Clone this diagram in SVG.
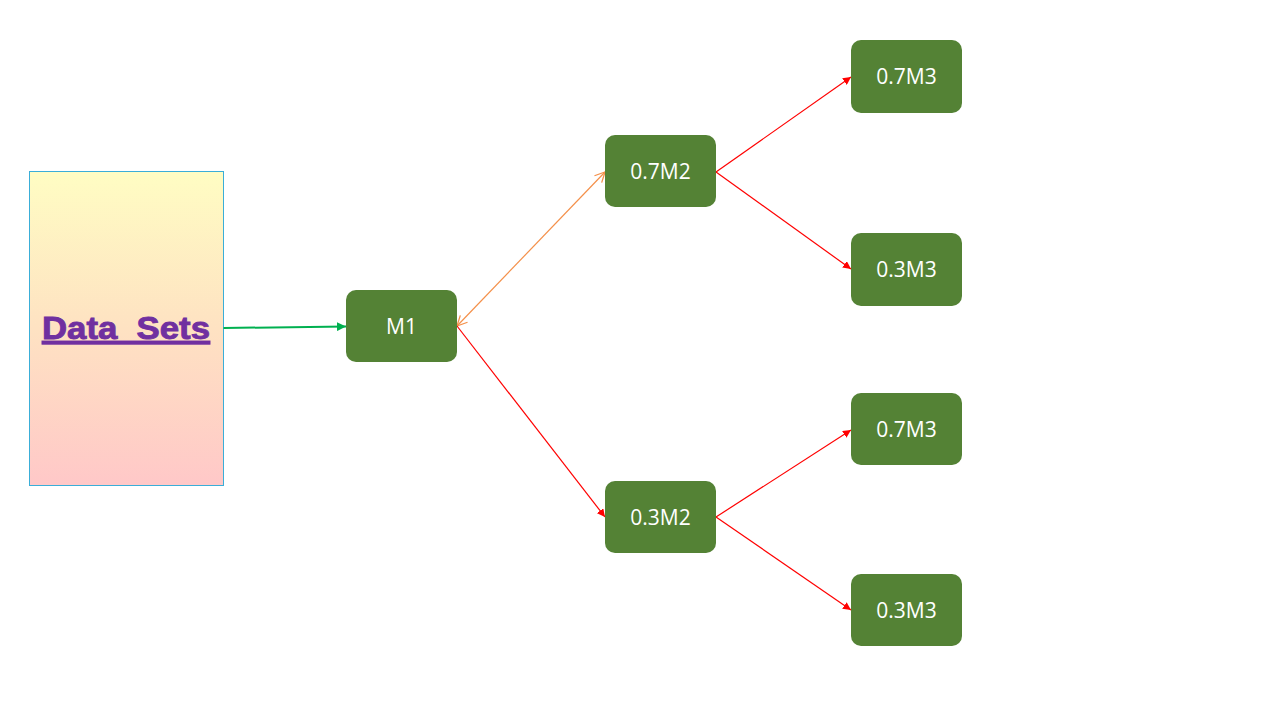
<svg xmlns="http://www.w3.org/2000/svg" width="1280" height="720" viewBox="0 0 1280 720">
<style>
.node rect{fill:#548235}
.node text{fill:#ffffff;font-family:"Open Sans","Liberation Sans",sans-serif;font-size:21px;text-anchor:middle;dominant-baseline:central}
.red{stroke:#ff0000;stroke-width:1.2;fill:none;marker-end:url(#redArrow)}
</style>
<defs>
<linearGradient id="dsGrad" x1="0" y1="0" x2="0" y2="1">
<stop offset="0" stop-color="#FFFDC3"/>
<stop offset="0.5" stop-color="#FEE2C2"/>
<stop offset="1" stop-color="#FFC8C8"/>
</linearGradient>
<marker id="redArrow" viewBox="0 0 10 10" refX="10" refY="5" markerWidth="8" markerHeight="8" markerUnits="userSpaceOnUse" orient="auto">
<path d="M0,0 L10,5 L0,10 z" fill="#ff0000"/>
</marker>
<marker id="greenArrow" viewBox="0 0 10 10" refX="10" refY="5" markerWidth="9" markerHeight="9" markerUnits="userSpaceOnUse" orient="auto">
<path d="M0,0 L10,5 L0,10 z" fill="#00B050"/>
</marker>
<marker id="openEnd" viewBox="0 0 12 12" refX="11" refY="6" markerWidth="12" markerHeight="12" markerUnits="userSpaceOnUse" orient="auto">
<path d="M1,1 L11,6 L1,11" fill="none" stroke="#F4904A" stroke-width="1.3"/>
</marker>
<marker id="openStart" viewBox="0 0 12 12" refX="1" refY="6" markerWidth="12" markerHeight="12" markerUnits="userSpaceOnUse" orient="auto">
<path d="M11,1 L1,6 L11,11" fill="none" stroke="#F4904A" stroke-width="1.3"/>
</marker>
</defs>
<rect width="1280" height="720" fill="#ffffff"/>
<g id="datasets">
<rect x="29.5" y="171.5" width="194" height="314" fill="url(#dsGrad)" stroke="#3AAED8" stroke-width="1"/>
<text x="126" y="339" font-family="'Liberation Sans',Arial,sans-serif" font-weight="bold" font-size="32" fill="#7030A0" stroke="#7030A0" stroke-width="0.9" text-anchor="middle" text-decoration="underline" textLength="168" lengthAdjust="spacingAndGlyphs" xml:space="preserve">Data  Sets</text>
</g>
<g id="connectors">
<line x1="223.5" y1="328" x2="346" y2="326.5" stroke="#00B050" stroke-width="2" marker-end="url(#greenArrow)"/>
<line x1="457" y1="326" x2="605" y2="172" stroke="#F4904A" stroke-width="1.2" marker-start="url(#openStart)" marker-end="url(#openEnd)"/>
<line class="red" x1="457" y1="326" x2="605" y2="517"/>
<line class="red" x1="716" y1="172" x2="851" y2="77"/>
<line class="red" x1="716" y1="172" x2="851" y2="269"/>
<line class="red" x1="716" y1="517" x2="851" y2="430"/>
<line class="red" x1="716" y1="517" x2="851" y2="610"/>
</g>
<g id="m1" class="node"><rect x="346" y="290" width="111" height="72" rx="10"/><text x="401.5" y="326">M1</text></g>
<g id="m2a" class="node"><rect x="605" y="135" width="111" height="72" rx="10"/><text x="660.5" y="171">0.7M2</text></g>
<g id="m2b" class="node"><rect x="605" y="481" width="111" height="72" rx="10"/><text x="660.5" y="517">0.3M2</text></g>
<g id="m3a" class="node"><rect x="851" y="40" width="111" height="73" rx="10"/><text x="906.5" y="76">0.7M3</text></g>
<g id="m3b" class="node"><rect x="851" y="233" width="111" height="73" rx="10"/><text x="906.5" y="269">0.3M3</text></g>
<g id="m3c" class="node"><rect x="851" y="393" width="111" height="72" rx="10"/><text x="906.5" y="429">0.7M3</text></g>
<g id="m3d" class="node"><rect x="851" y="574" width="111" height="72" rx="10"/><text x="906.5" y="610">0.3M3</text></g>
</svg>
